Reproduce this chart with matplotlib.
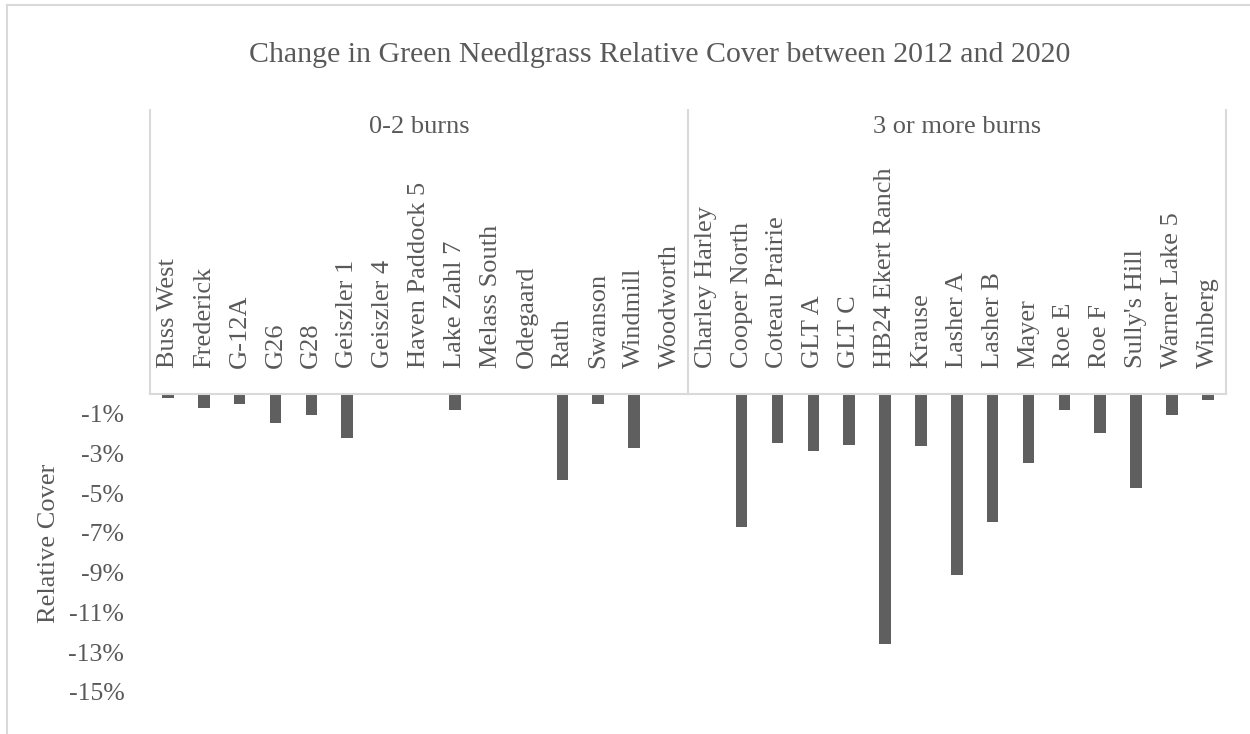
import numpy as np
import matplotlib
matplotlib.use("Agg")
import matplotlib.pyplot as plt
from matplotlib.lines import Line2D
from matplotlib.transforms import blended_transform_factory

plt.rcParams["font.family"] = ["Liberation Serif", "DejaVu Serif"]

title = "Change in Green Needlgrass Relative Cover between 2012 and 2020"
group_names = ["0-2 burns", "3 or more burns"]

sites_low = ["Buss West", "Frederick", "G-12A", "G26", "G28", "Geiszler 1",
             "Geiszler 4", "Haven Paddock 5", "Lake Zahl 7", "Melass South",
             "Odegaard", "Rath", "Swanson", "Windmill", "Woodworth"]
change_low = [-0.19, -0.72, -0.50, -1.48, -1.06, -2.20, -0.03, 0.0, -0.79,
              0.0, 0.0, -4.33, -0.50, -2.72, 0.0]

sites_high = ["Charley Harley", "Cooper North", "Coteau Prairie", "GLT A",
              "GLT C", "HB24 Ekert Ranch", "Krause", "Lasher A", "Lasher B",
              "Mayer", "Roe E", "Roe F", "Sully's Hill", "Warner Lake 5",
              "Winberg"]
change_high = [0.0, -6.72, -2.47, -2.89, -2.57, -12.6, -2.62, -9.12, -6.46,
               -3.48, -0.79, -1.96, -4.74, -1.06, -0.30]

y_ticks = [-1, -3, -5, -7, -9, -11, -13, -15]

W, H = 1250, 734
TEXT = "#595959"
GRID = "#d9d9d9"
BAR = "#5f5f5f"

fig = plt.figure(figsize=(W / 100, H / 100), dpi=100)


def fx(px):
    return px / W


def fy(py):
    return 1 - py / H


# plot area: zero line at y=394 px, 19.85 px per percent
left_px, right_px = 150, 1225.7
zero_px = 394
px_per_pct = 19.85
ymin = -17.0
bottom_px = zero_px - ymin * px_per_pct
ax_w = right_px - left_px
ax_h = bottom_px - zero_px
ax = fig.add_axes([fx(left_px), fy(bottom_px), fx(ax_w), ax_h / H])

sites = sites_low + sites_high
values = change_low + change_high
x = np.arange(len(sites))
ax.bar(x, values, width=0.32, color=BAR, zorder=2)
ax.set_xlim(-0.5, len(sites) - 0.5)
ax.set_ylim(ymin, 0)

for s in ax.spines.values():
    s.set_visible(False)
ax.set_xticks([])
ax.set_yticks(y_ticks)
ax.set_yticklabels([f"{v}%" for v in y_ticks], fontsize=18.5, color=TEXT)
ax.tick_params(axis="y", length=0, pad=18.5)
ax.set_ylabel("Relative Cover", fontsize=19, color=TEXT, labelpad=0)
ax.yaxis.set_label_coords((60 - left_px) / ax_w, 1 - (543 - zero_px) / ax_h)

# category box above the bars
tr = blended_transform_factory(ax.transData, fig.transFigure)
box_top = fy(110)
zero_fig = fy(zero_px)
fig.add_artist(Line2D([-0.5, len(sites) - 0.5], [zero_fig, zero_fig],
                      transform=tr, color=GRID, lw=1.5))
for xd in (-0.5, len(sites_low) - 0.5, len(sites) - 0.5):
    fig.add_artist(Line2D([xd, xd], [zero_fig, box_top], transform=tr,
                          color=GRID, lw=1.5))

for i, name in enumerate(sites):
    ax.text(i, fy(368), name, transform=tr, rotation=90, ha="center",
            va="bottom", fontsize=19, color=TEXT)

centers = [(len(sites_low) - 1) / 2,
           len(sites_low) + (len(sites_high) - 1) / 2]
for c, g in zip(centers, group_names):
    ax.text(c, fy(127), g, transform=tr, ha="center", va="center",
            fontsize=19, color=TEXT)

fig.text(fx(660), fy(55), title, ha="center", va="center", fontsize=21.5,
         color=TEXT)

# chart border
fig.add_artist(Line2D([fx(7), fx(7)], [fy(5), 0], transform=fig.transFigure,
                      color=GRID, lw=1.5))
fig.add_artist(Line2D([fx(7), 1], [fy(5), fy(5)], transform=fig.transFigure,
                      color=GRID, lw=1.5))

fig.savefig("out.png", dpi=100)
